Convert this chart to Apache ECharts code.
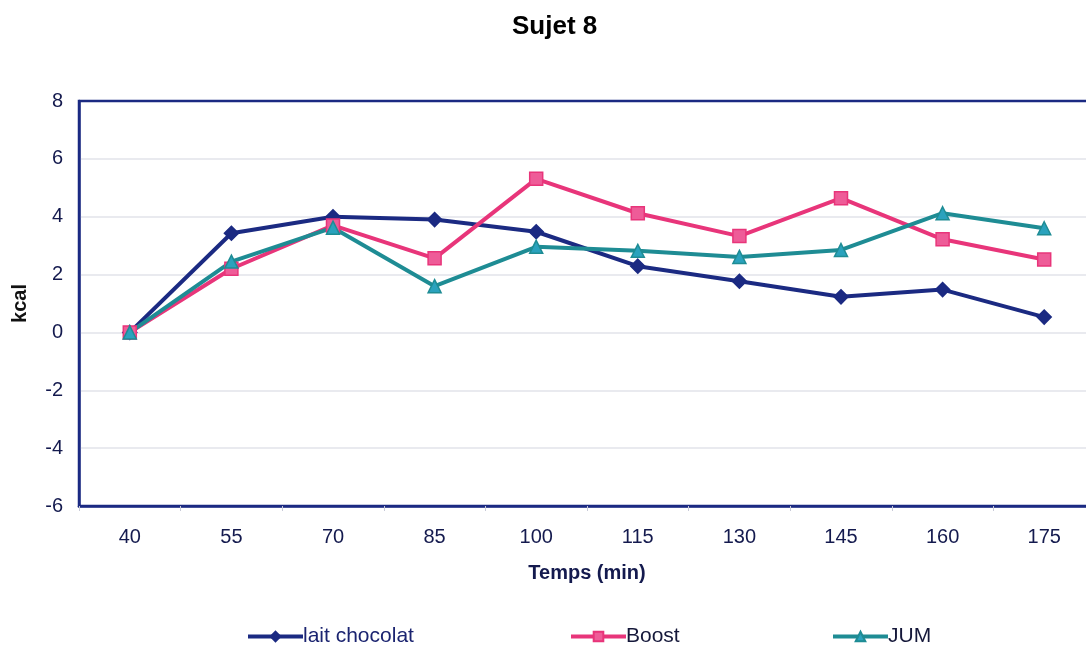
<!DOCTYPE html>
<html>
<head>
<meta charset="utf-8">
<script src="https://cdn.jsdelivr.net/npm/echarts@6/dist/echarts.min.js"></script>
<style>
  html, body { margin: 0; padding: 0; background: #ffffff; }
  #chart { width: 1086px; height: 646px; }
</style>
</head>
<body>
<div id="chart"></div>
<script>
// Time points (minutes) and energy values (kcal) per drink
const categories = ['40', '55', '70', '85', '100', '115', '130', '145', '160', '175'];
const laitChocolat = [0, 3.43, 4.0, 3.9, 3.48, 2.29, 1.77, 1.23, 1.48, 0.53];
const boost = [0, 2.2, 3.7, 2.56, 5.31, 4.12, 3.33, 4.64, 3.22, 2.52];
const jum = [0, 2.45, 3.62, 1.6, 2.96, 2.82, 2.61, 2.85, 4.12, 3.6];
const yTicks = { min: -6, max: 8, step: 2 };

const navy = '#1b2a82';
const pink = '#e8357a';
const teal = '#1e8c94';
const textColor = '#141a4e';
const font = 'Liberation Sans, Arial, sans-serif';

const chart = echarts.init(document.getElementById('chart'));

function lineSeries(name, data, color, symbol, fill, size) {
  return {
    name: name,
    type: 'line',
    data: data,
    symbol: symbol,
    symbolSize: size,
    lineStyle: { color: color, width: 4 },
    itemStyle: { color: fill, borderColor: color, borderWidth: 1.5 },
    emphasis: { disabled: true },
    animation: false
  };
}

function legendAt(name, left, color) {
  return {
    data: [name],
    left: left,
    top: 621,
    itemWidth: 55,
    itemHeight: 12,
    itemGap: 2,
    lineStyle: { width: 4 },
    textStyle: { fontFamily: font, fontSize: 21, color: color, padding: [0, 0, 0, -5] },
    selectedMode: false
  };
}

chart.setOption({
  backgroundColor: '#ffffff',
  title: {
    text: 'Sujet 8',
    left: 507,
    top: 9,
    textStyle: { fontFamily: font, fontSize: 26, fontWeight: 'bold', color: '#000000' }
  },
  legend: [
    legendAt('lait chocolat', 241, '#1b2470'),
    legendAt('Boost', 564, '#15183a'),
    legendAt('JUM', 826, '#15183a')
  ],
  grid: {
    left: 79,
    width: 1016,
    top: 101,
    height: 405,
    outerBoundsMode: 'none',
    show: true,
    borderColor: navy,
    borderWidth: 2.5
  },
  xAxis: {
    type: 'category',
    data: categories,
    boundaryGap: true,
    name: 'Temps (min)',
    nameLocation: 'middle',
    nameGap: 57,
    nameTextStyle: { fontFamily: font, fontSize: 20, fontWeight: 'bold', color: textColor },
    axisLine: { show: true, onZero: false, lineStyle: { color: navy, width: 2.5 } },
    axisTick: { show: true, alignWithLabel: false, length: 5, lineStyle: { color: '#c8cad8' } },
    axisLabel: { fontFamily: font, fontSize: 20, color: textColor, margin: 21 },
    splitLine: { show: false }
  },
  yAxis: {
    type: 'value',
    min: yTicks.min,
    max: yTicks.max,
    interval: yTicks.step,
    name: 'kcal',
    nameLocation: 'middle',
    nameGap: 49,
    nameRotate: 90,
    nameTextStyle: { fontFamily: font, fontSize: 20, fontWeight: 'bold', color: '#111111' },
    axisLine: { show: true, lineStyle: { color: navy, width: 2.5 } },
    axisTick: { show: false },
    axisLabel: { fontFamily: font, fontSize: 20, color: textColor, margin: 16 },
    splitLine: { show: true, showMinLine: false, showMaxLine: false, lineStyle: { color: '#e2e3ea', width: 1.5 } }
  },
  series: [
    lineSeries('lait chocolat', laitChocolat, navy, 'diamond', navy, 14),
    lineSeries('Boost', boost, pink, 'rect', '#ee5c98', 13),
    lineSeries('JUM', jum, teal, 'triangle', '#2aa2bd', 13)
  ]
});
</script>
</body>
</html>
